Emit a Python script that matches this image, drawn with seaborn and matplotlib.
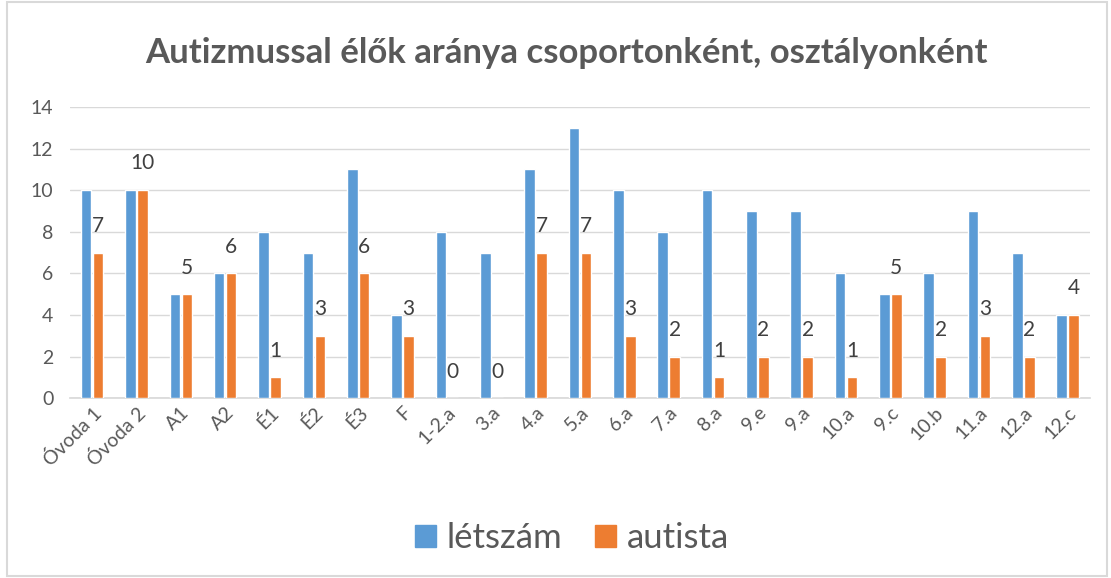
import matplotlib
matplotlib.use("Agg")
import matplotlib.pyplot as plt
import pandas as pd
import seaborn as sns

# data
groups = ["Óvoda 1", "Óvoda 2", "A1", "A2", "É1", "É2", "É3", "F", "1-2.a", "3.a",
          "4.a", "5.a", "6.a", "7.a", "8.a", "9.e", "9.a", "10.a", "9.c", "10.b",
          "11.a", "12.a", "12.c"]
letszam = [10, 10, 5, 6, 8, 7, 11, 4, 8, 7, 11, 13, 10, 8, 10, 9, 9, 6, 5, 6, 9, 7, 4]
autista = [7, 10, 5, 6, 1, 3, 6, 3, 0, 0, 7, 7, 3, 2, 1, 2, 2, 1, 5, 2, 3, 2, 4]
series = ["létszám", "autista"]
colors = ["#5B9BD5", "#ED7D31"]
txt = "#595959"

df = pd.DataFrame({
    "csoport": groups * 2,
    "fő": letszam + autista,
    "sorozat": [series[0]] * len(groups) + [series[1]] * len(groups),
})

sns.set_theme(style="white")
plt.rcParams["font.family"] = ["Lato", "DejaVu Sans"]

fig = plt.figure(figsize=(11.11, 5.78), dpi=100)
ax = fig.add_axes([0.063, 0.311, 0.918, 0.504])

sns.barplot(data=df, x="csoport", y="fő", hue="sorozat", palette=colors,
            width=0.54, gap=0.12, saturation=1, ax=ax, zorder=3)

ax.set_ylim(0, 14)
ax.set_yticks(range(0, 15, 2))
ax.yaxis.grid(True, color="#D9D9D9", linewidth=1, zorder=0)
ax.set_xlabel("")
ax.set_ylabel("")
for s in ["top", "right", "left"]:
    ax.spines[s].set_visible(False)
ax.spines["bottom"].set_color("#D9D9D9")
ax.tick_params(axis="y", labelsize=14, colors=txt, length=0, pad=12)
ax.tick_params(axis="x", labelsize=14, colors=txt, length=0, pad=4)
plt.setp(ax.get_xticklabels(), rotation=45, ha="right", rotation_mode="anchor")

ax.bar_label(ax.containers[1], fontsize=15, color="#404040", padding=12)

fig.text(566 / 1111, 1 - 53 / 578, "Autizmussal élők aránya csoportonként, osztályonként",
         ha="center", va="center", fontsize=25, fontweight="bold", color=txt)

ax.legend_.remove()
handles = [plt.Rectangle((0, 0), 1, 1, color=c) for c in colors]
fig.legend(handles, series, loc="center", bbox_to_anchor=(572 / 1111, 1 - 538 / 578), ncol=2,
           frameon=False, fontsize=25, labelcolor=txt, handlelength=0.6,
           handleheight=0.6, handletextpad=0.3, columnspacing=0.95)

fig.patches.append(plt.Rectangle((0.006, 0.004), 0.99, 0.992, transform=fig.transFigure,
                                 fill=False, edgecolor="#D9D9D9", linewidth=1.5))

fig.savefig("out.png", dpi=100)
